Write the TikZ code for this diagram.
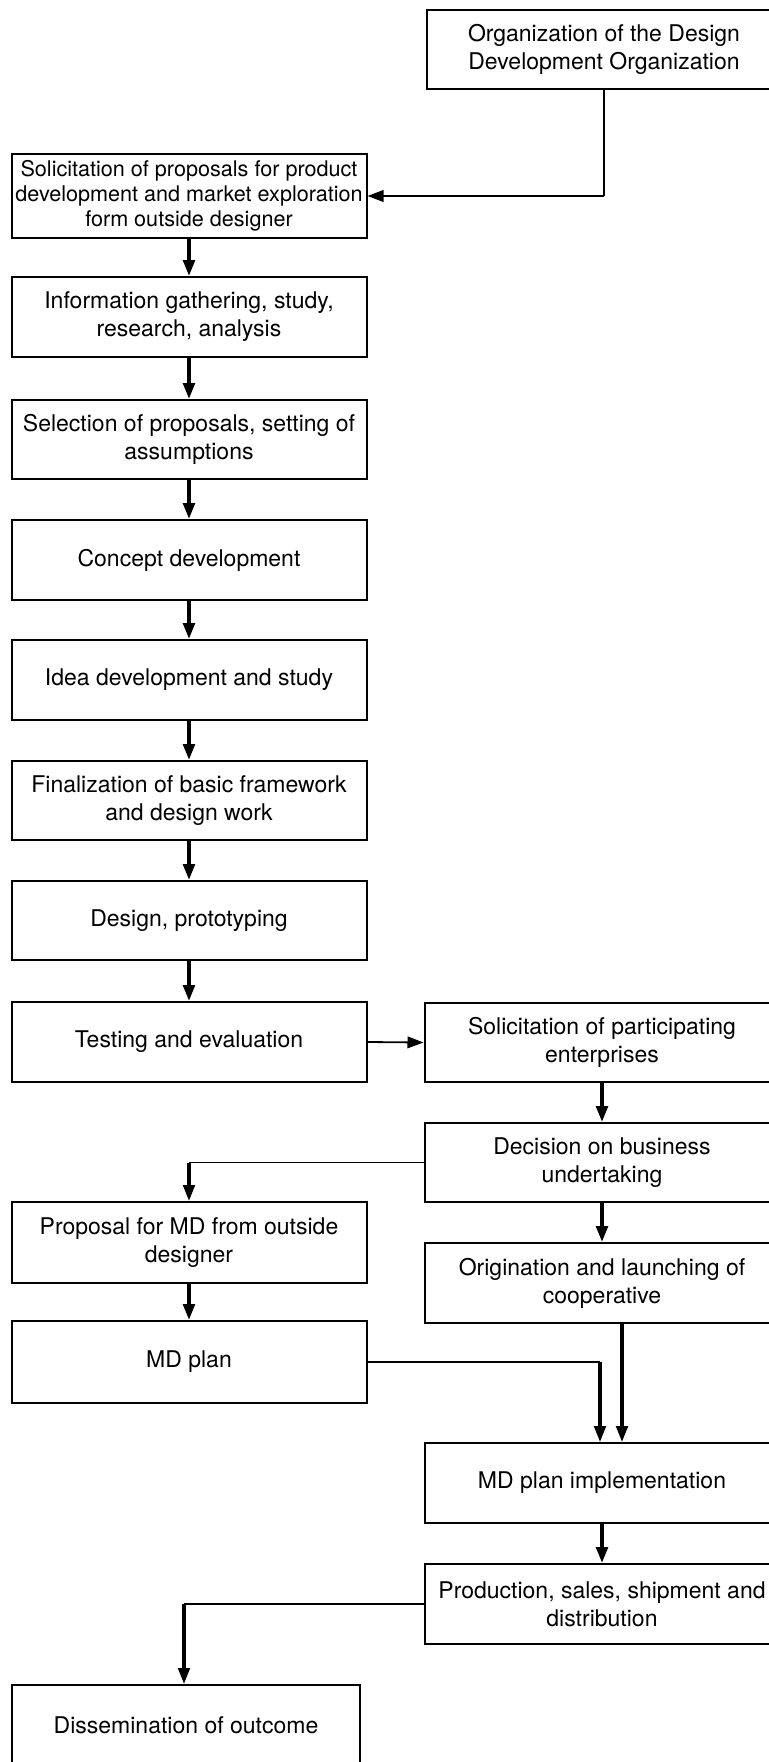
\documentclass[tikz,border=0pt]{standalone}
\usepackage{fontspec}
\setmainfont{TeX Gyre Heros}
\usetikzlibrary{arrows.meta}
\begin{document}
\begin{tikzpicture}[x=0.5pt,y=-0.5pt,
  box/.style={draw, line width=1pt, minimum width=177.5pt, minimum height=40pt,
    inner sep=0pt, align=center, font=\fontsize{11.5}{14}\selectfont},
  smallbox/.style={box, font=\fontsize{10.8}{12.6}\selectfont},
  tip/.style={-{Triangle[length=8pt,width=5.8pt]}},
  flow/.style={line width=1.8pt, tip},
  drop/.style={line width=1.6pt, tip},
  riser/.style={line width=1.2pt},
  link/.style={line width=0.7pt},
  linkarr/.style={line width=0.9pt, tip}
]
\useasboundingbox (0,0) rectangle (769,1762);
\clip (0,0) rectangle (769,1762);

% left column
\node[smallbox, minimum height=42pt] (sol) at (189,196) {Solicitation of proposals for product\\development and market exploration\\form outside designer};
\node[box] (info) at (189,317) {Information gathering, study,\\research, analysis};
\node[box, minimum height=39.5pt] (sel) at (189,439.5) {Selection of proposals, setting of\\assumptions};
\node[box] (concept) at (189,560) {Concept development};
\node[box] (idea) at (189,680) {Idea development and study};
\node[box, minimum height=39.5pt] (final) at (189,800.5) {Finalization of basic framework\\and design work};
\node[box, minimum height=39.5pt] (design) at (189,920.5) {Design, prototyping};
\node[box] (test) at (189,1042) {Testing and evaluation};
\node[box, minimum height=40.5pt] (prop) at (189,1242.5) {Proposal for MD from outside\\designer};
\node[box, minimum height=41pt] (plan) at (189,1362) {MD plan};
\node[box, minimum width=174pt] (dissem) at (186,1725) {Dissemination of outcome};

% right column
\node[box, minimum height=39.5pt] (org) at (604,49.5) {Organization of the Design\\Development Organization};
\node[box, minimum height=39.5pt] (part) at (602,1042.5) {Solicitation of participating\\enterprises};
\node[box, minimum height=39.5pt] (dec) at (602,1162.5) {Decision on business\\undertaking};
\node[box] (orig) at (602,1283) {Origination and launching of\\cooperative};
\node[box] (impl) at (602,1483) {MD plan implementation};
\node[box] (prod) at (602,1604) {Production, sales, shipment and\\distribution};

% main chain on the left
\draw[flow] (sol) -- (info);
\draw[flow] (info) -- (sel);
\draw[flow] (sel) -- (concept);
\draw[flow] (concept) -- (idea);
\draw[flow] (idea) -- (final);
\draw[flow] (final) -- (design);
\draw[flow] (design) -- (test);
\draw[flow] (prop) -- (plan);

% chain on the right
\draw[flow] (part) -- (dec);
\draw[flow] (dec) -- (orig);
\draw[flow] (impl) -- (prod);
\draw[drop] ([xshift=10pt]orig.south) -- ([xshift=10pt]impl.north);

% organization feeds the first solicitation
\coordinate (k1) at (org.south |- sol.east);
\draw[riser] (org.south) -- (k1);
\draw[linkarr] (k1) -- (sol.east);

% testing hands over to the enterprises
\draw[linkarr] (test.east) -- (part.west);

% decision branches to the outside proposal
\coordinate (k2) at (prop.north |- dec.west);
\draw[link] (dec.west) -- (k2);
\draw[drop] (k2) -- (prop.north);

% MD plan joins the implementation
\coordinate (k3) at ([xshift=-1pt]impl.north |- plan.east);
\draw[link] (plan.east) -- (k3);
\draw[drop] (k3) -- ([xshift=-1pt]impl.north);

% outcome dissemination
\coordinate (k4) at ([xshift=-1pt]dissem.north |- prod.west);
\draw[link] (prod.west) -- (k4);
\draw[drop] (k4) -- ([xshift=-1pt]dissem.north);
\end{tikzpicture}
\end{document}
